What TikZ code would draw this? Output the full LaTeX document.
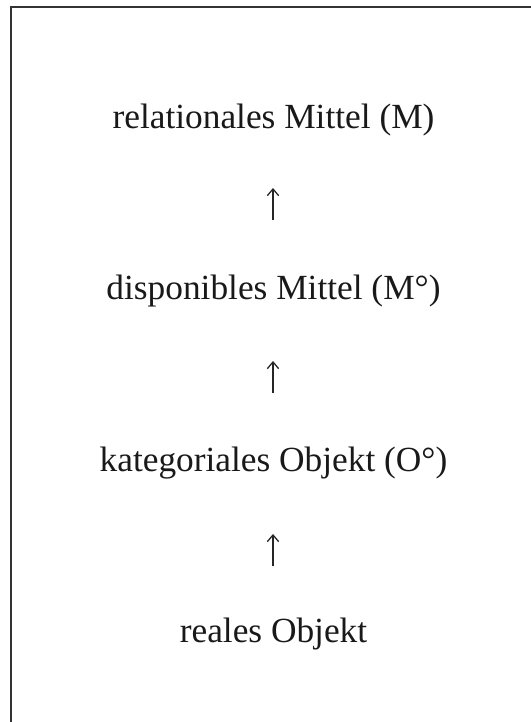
\documentclass[tikz,border=0pt]{standalone}
\usepackage{fontspec}
\setmainfont{Liberation Serif}
\usetikzlibrary{arrows.meta}
\begin{document}
\begin{tikzpicture}[x=0.75pt,y=-0.75pt,
  label/.style={anchor=base,inner sep=0pt,font=\fontsize{26.5}{31}\selectfont,text=black!90},
  uparrow/.style={-{Straight Barb[length=5pt,width=8.5pt]},line width=0.95pt,black!85},
  frame/.style={line width=1.8pt,black!80}]
\useasboundingbox (0,0) rectangle (531,722);
\fill[white] (0,0) rectangle (531,722);
\coordinate (fr) at (540,7);
\coordinate (fc) at (10.7,7);
\coordinate (fb) at (10.7,730);
\draw[frame] (fr) -- (fc) -- (fb);
\node[label] (m)  at (273.5,128) {relationales Mittel (M)};
\node[label] (md) at (273.5,299.5) {disponibles Mittel (M°)};
\node[label] (od) at (273.5,471) {kategoriales Objekt (O°)};
\node[label] (ro) at (273.5,642.5) {reales Objekt};
\coordinate (a1t) at (273,188);
\coordinate (a1b) at (273,220);
\coordinate (a2t) at (273,361);
\coordinate (a2b) at (273,393);
\coordinate (a3t) at (273,534);
\coordinate (a3b) at (273,566);
\draw[uparrow] (a1b) -- (a1t);
\draw[uparrow] (a2b) -- (a2t);
\draw[uparrow] (a3b) -- (a3t);
\end{tikzpicture}
\end{document}
